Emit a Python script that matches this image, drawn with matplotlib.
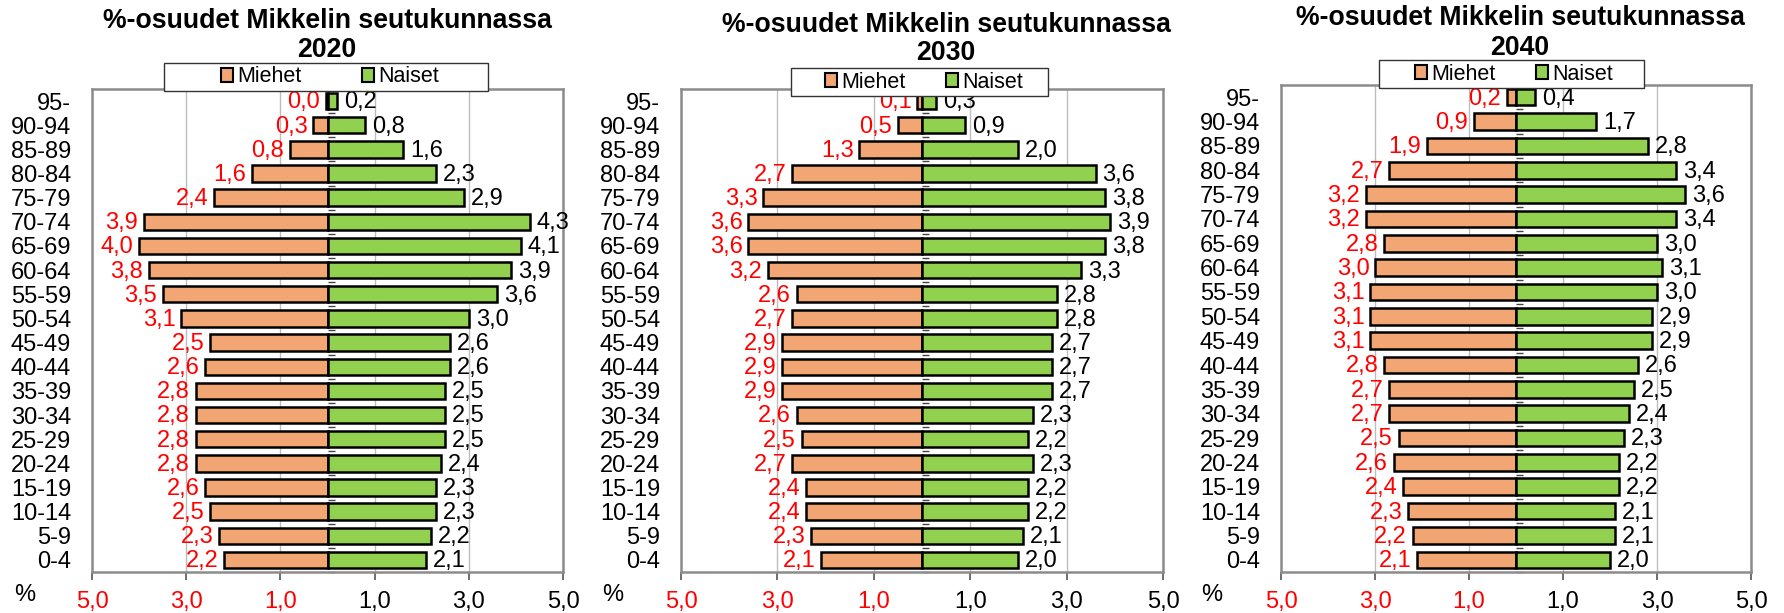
import numpy as np
import matplotlib
matplotlib.use("Agg")
import matplotlib.pyplot as plt
from matplotlib.patches import Rectangle

plt.rcParams['font.family'] = ['Liberation Sans', 'DejaVu Sans']

# ikäryhmät alhaalta ylös
ages = ['0-4', '5-9', '10-14', '15-19', '20-24', '25-29', '30-34', '35-39',
        '40-44', '45-49', '50-54', '55-59', '60-64', '65-69', '70-74',
        '75-79', '80-84', '85-89', '90-94', '95-']

men_2020 = [2.2, 2.3, 2.5, 2.6, 2.8, 2.8, 2.8, 2.8, 2.6, 2.5, 3.1, 3.5, 3.8, 4.0, 3.9, 2.4, 1.6, 0.8, 0.3, 0.04]
women_2020 = [2.1, 2.2, 2.3, 2.3, 2.4, 2.5, 2.5, 2.5, 2.6, 2.6, 3.0, 3.6, 3.9, 4.1, 4.3, 2.9, 2.3, 1.6, 0.8, 0.2]

men_2030 = [2.1, 2.3, 2.4, 2.4, 2.7, 2.5, 2.6, 2.9, 2.9, 2.9, 2.7, 2.6, 3.2, 3.6, 3.6, 3.3, 2.7, 1.3, 0.5, 0.1]
women_2030 = [2.0, 2.1, 2.2, 2.2, 2.3, 2.2, 2.3, 2.7, 2.7, 2.7, 2.8, 2.8, 3.3, 3.8, 3.9, 3.8, 3.6, 2.0, 0.9, 0.3]

men_2040 = [2.1, 2.2, 2.3, 2.4, 2.6, 2.5, 2.7, 2.7, 2.8, 3.1, 3.1, 3.1, 3.0, 2.8, 3.2, 3.2, 2.7, 1.9, 0.9, 0.2]
women_2040 = [2.0, 2.1, 2.1, 2.2, 2.2, 2.3, 2.4, 2.5, 2.6, 2.9, 2.9, 3.0, 3.1, 3.0, 3.4, 3.6, 3.4, 2.8, 1.7, 0.4]

years = ['2020', '2030', '2040']
xticks = [-5, -3, -1, 1, 3, 5]
xticklabels = ['5,0', '3,0', '1,0', '1,0', '3,0', '5,0']

orange = '#F1A673'
green = '#92D050'

W, H = 1784, 613
fig = plt.figure(figsize=(W / 100, H / 100), dpi=100)

# axes (left, top, right, bottom), legend box, legend entries center, title x / y1 / y2, % x, column spacing
layout = [
    dict(box=(92, 89, 563, 572), lbox=(164, 63, 488, 91), lc=(330, 77), title=(327, 21, 50), pct=25, cs=2.8),
    dict(box=(681, 89, 1163, 572), lbox=(791, 68, 1048, 96), lc=(924, 82), title=(946, 25, 53), pct=613, cs=1.85),
    dict(box=(1281, 85, 1751, 572), lbox=(1379, 60, 1644, 88), lc=(1514, 74), title=(1520, 18, 48), pct=1212, cs=1.85),
]
data = [(men_2020, women_2020), (men_2030, women_2030), (men_2040, women_2040)]


def fmt(v):
    return f"{v:.1f}".replace('.', ',')


y = np.arange(len(ages))
for p, (men, women), year in zip(layout, data, years):
    l, t, r, b = p['box']
    ax = fig.add_axes([l / W, 1 - b / H, (r - l) / W, (b - t) / H])
    men = np.array(men)
    women = np.array(women)

    bm = ax.barh(y, -men, height=0.68, color=orange, edgecolor='black', linewidth=1.8, label='Miehet', zorder=3)
    bw = ax.barh(y, women, height=0.68, color=green, edgecolor='black', linewidth=1.8, label='Naiset', zorder=3)

    for yi, v in zip(y, men):
        ax.annotate(fmt(v), (-v, yi), xytext=(-4, -1), textcoords='offset points',
                    ha='right', va='center', color='red', fontsize=17, zorder=4)
    for yi, v in zip(y, women):
        ax.annotate(fmt(v), (v, yi), xytext=(5, -1), textcoords='offset points',
                    ha='left', va='center', color='black', fontsize=17, zorder=4)

    ax.set_xlim(-5, 5)
    ax.set_ylim(-0.5, len(ages) - 0.5)
    ax.set_xticks(xticks)
    ax.set_xticklabels(xticklabels, fontsize=17)
    for lab, xv in zip(ax.get_xticklabels(), xticks):
        lab.set_color('red' if xv < 0 else 'black')
    ax.set_yticks(y)
    ax.set_yticklabels(ages, fontsize=17)
    ax.tick_params(axis='y', length=0, pad=15)
    ax.tick_params(axis='x', length=6, width=1.2, color='#555555', pad=8)
    ax.grid(axis='x', color='#bdbdbd', linewidth=1, zorder=0)
    ax.set_axisbelow(True)
    for s in ax.spines.values():
        s.set_color('#8c8c8c')
        s.set_linewidth(1.8)

    # pystyakseli nollakohdassa
    sec = ax.secondary_yaxis(0.5)
    sec.set_yticks(np.arange(-0.5, len(ages), 1))
    sec.set_yticklabels([])
    sec.tick_params(length=5, width=1, color='#444444', direction='out')
    sec.spines['left'].set_color('black')
    sec.spines['left'].set_linewidth(1.3)
    sec.spines['right'].set_visible(False)

    tx, ty1, ty2 = p['title']
    fig.text(tx / W, 1 - ty1 / H, '%-osuudet Mikkelin seutukunnassa',
             ha='center', va='center', fontsize=19.2, fontweight='bold')
    fig.text(tx / W, 1 - ty2 / H, year,
             ha='center', va='center', fontsize=19.2, fontweight='bold')
    fig.text(p['pct'] / W, 1 - 595 / H, '%', ha='center', va='center', fontsize=17)

    # legendan kehys
    bl, bt, br, bb = p['lbox']
    fig.patches.append(Rectangle((bl / W, 1 - bb / H), (br - bl) / W, (bb - bt) / H,
                                 transform=fig.transFigure, facecolor='white',
                                 edgecolor='#333333', linewidth=1.0, zorder=5))
    leg = fig.legend(handles=[bm, bw], labels=['Miehet', 'Naiset'], loc='center',
                     bbox_to_anchor=(p['lc'][0] / W, 1 - p['lc'][1] / H), ncol=2, fontsize=15.5,
                     frameon=False, handlelength=0.55, handleheight=0.6, handletextpad=0.2,
                     columnspacing=p['cs'], borderpad=0.1)
    leg.set_zorder(6)
    for h in leg.legend_handles:
        h.set_linewidth(1.5)

fig.savefig('out.png', dpi=100)
